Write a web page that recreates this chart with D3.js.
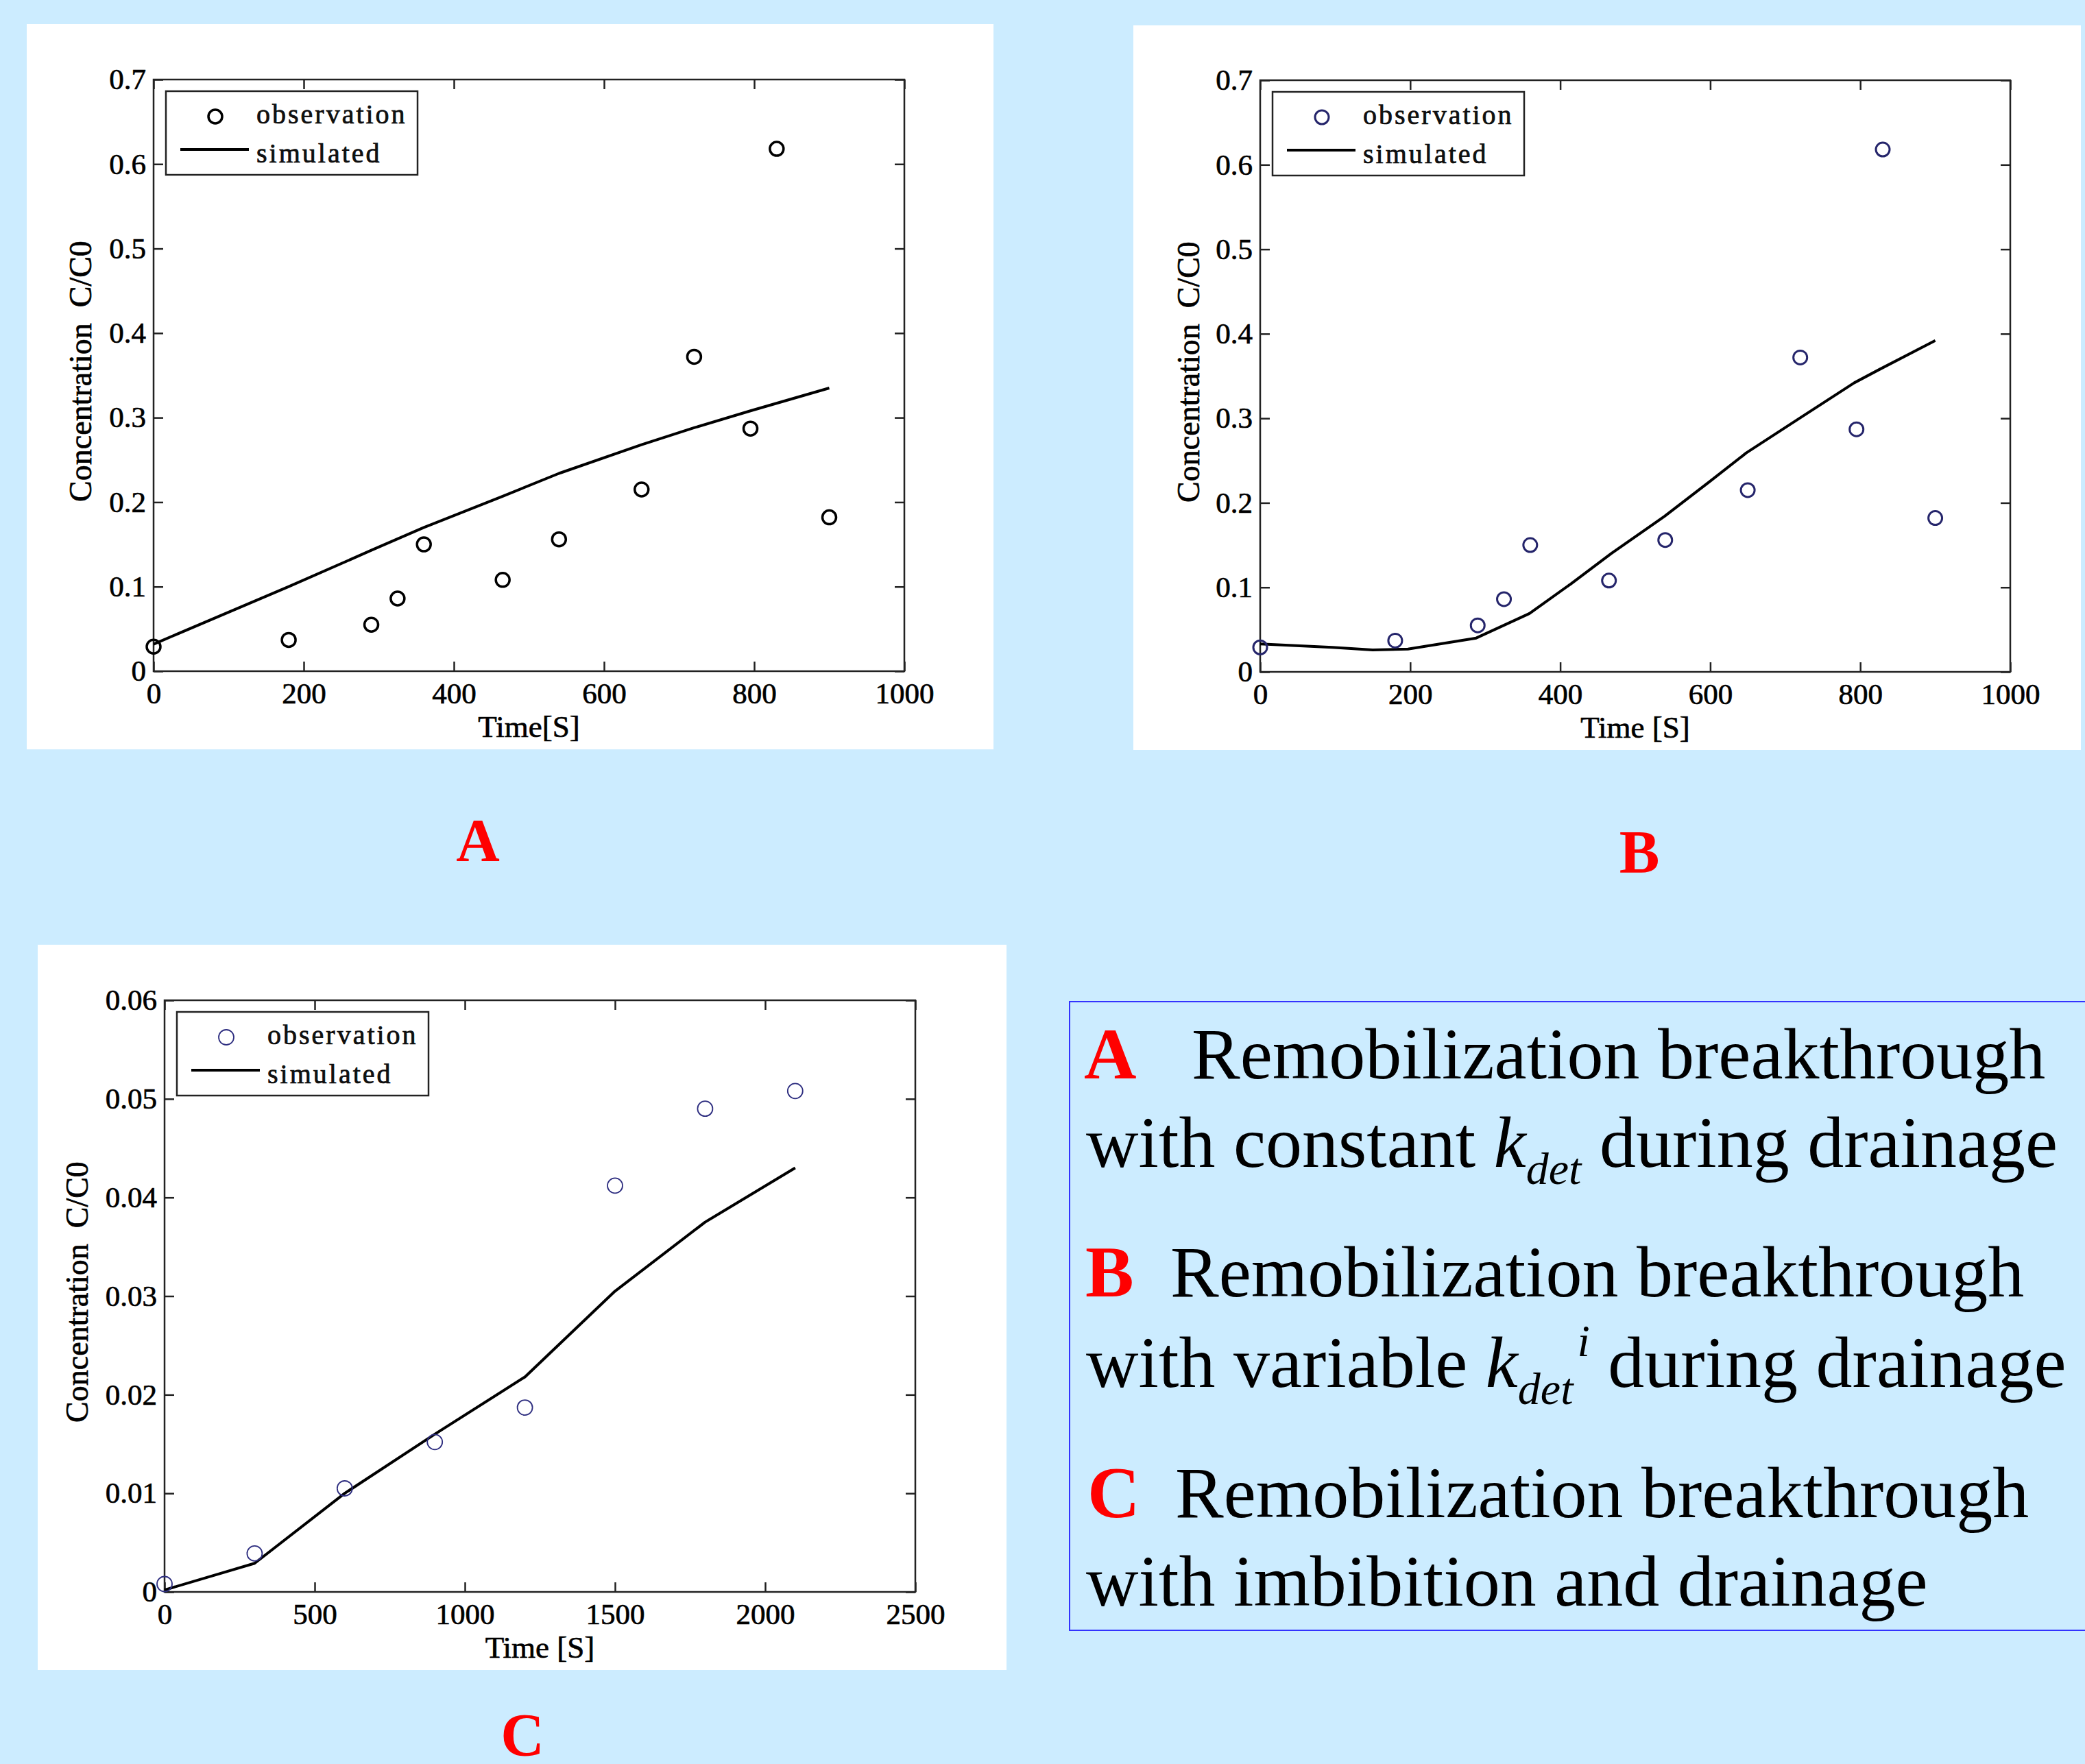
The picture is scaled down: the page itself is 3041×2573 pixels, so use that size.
<!DOCTYPE html>
<html>
<head>
<meta charset="utf-8">
<script src="https://cdn.jsdelivr.net/npm/d3@7"></script>
<style>
  body { margin: 0; background: #ccecff; }
  svg { display: block; }
  text { font-family: "Liberation Serif", "Times New Roman", serif; }
  .chart text { stroke: #000; stroke-width: 0.7px; }
</style>
</head>
<body>
<svg id="fig" width="3041" height="2573"></svg>
<script>
// observed breakthrough, same data in A and B
var obsTimeAB = [0, 180, 290, 325, 360, 465, 540, 650, 720, 795, 830, 900];
var obsConcAB = [0.029, 0.037, 0.055, 0.086, 0.150, 0.108, 0.156, 0.215, 0.372, 0.287, 0.618, 0.182];

// A: constant kdet
var simTimeA = [0, 180, 290, 360, 465, 540, 650, 720, 795, 900];
var simConcA = [0.032, 0.100, 0.143, 0.170, 0.207, 0.234, 0.268, 0.288, 0.308, 0.335];

// B: variable kdet
var simTimeB = [0, 96, 150, 197, 288, 359, 414, 468, 539, 599, 648, 719, 792, 826, 900];
var simConcB = [0.033, 0.029, 0.026, 0.027, 0.040, 0.069, 0.104, 0.140, 0.184, 0.225, 0.259, 0.300, 0.342, 0.358, 0.392];

// C: imbibition + drainage
var obsTimeC = [0, 300, 600, 900, 1200, 1500, 1800, 2100];
var obsConcC = [0.0008, 0.0039, 0.0105, 0.0152, 0.0187, 0.0412, 0.0490, 0.0508];
var simTimeC = [0, 300, 600, 900, 1200, 1500, 1800, 2100];
var simConcC = [0.0002, 0.0029, 0.0100, 0.0160, 0.0218, 0.0305, 0.0375, 0.0430];

var tickXAB = [0, 200, 400, 600, 800, 1000];
var tickYAB = [0, 0.1, 0.2, 0.3, 0.4, 0.5, 0.6, 0.7];
var tickXC = [0, 500, 1000, 1500, 2000, 2500];
var tickYC = [0, 0.01, 0.02, 0.03, 0.04, 0.05, 0.06];
var legendLabels = ["observation", "simulated"];
var yTitle = "Concentration  C/C0";

var svg = d3.select("#fig");

var fmtY1 = function(d) { return d === 0 ? "0" : d3.format(".1f")(d); };
var fmtY2 = function(d) { return d === 0 ? "0" : d3.format(".2f")(d); };

function styleAxis(sel) {
  sel.attr("font-size", null).attr("font-family", null);
  sel.select(".domain").remove();
  sel.selectAll(".tick line").attr("stroke", "#222").attr("stroke-width", 2.5);
  sel.selectAll(".tick text").attr("fill", "#000").style("font-size", "43px");
}

function drawPanel(p) {
  var g = svg.append("g").attr("class", "chart");
  g.append("rect")
    .attr("x", p.box[0]).attr("y", p.box[1])
    .attr("width", p.box[2] - p.box[0]).attr("height", p.box[3] - p.box[1])
    .attr("fill", "#fff");

  var L = p.plot[0], T = p.plot[1], R = p.plot[2], B = p.plot[3];
  var x = d3.scaleLinear().domain(p.xDomain).range([L, R]);
  var y = d3.scaleLinear().domain(p.yDomain).range([B, T]);

  g.append("g").attr("transform", "translate(0," + B + ")")
    .call(d3.axisBottom(x).tickValues(p.xTicks).tickSizeInner(-14).tickSizeOuter(0)
      .tickPadding(16).tickFormat(d3.format("d")))
    .call(styleAxis);
  g.append("g").attr("transform", "translate(0," + T + ")")
    .call(d3.axisTop(x).tickValues(p.xTicks).tickSizeInner(-14).tickSizeOuter(0).tickFormat(""))
    .call(styleAxis);
  g.append("g").attr("transform", "translate(" + L + ",0)")
    .call(d3.axisLeft(y).tickValues(p.yTicks).tickSizeInner(-14).tickSizeOuter(0)
      .tickPadding(11).tickFormat(p.yFmt))
    .call(styleAxis);
  g.append("g").attr("transform", "translate(" + R + ",0)")
    .call(d3.axisRight(y).tickValues(p.yTicks).tickSizeInner(-14).tickSizeOuter(0).tickFormat(""))
    .call(styleAxis);

  g.append("rect")
    .attr("x", L).attr("y", T).attr("width", R - L).attr("height", B - T)
    .attr("fill", "none").attr("stroke", "#222").attr("stroke-width", 2.5);

  var line = d3.line()
    .x(function(d, i) { return x(p.simT[i]); })
    .y(function(d) { return y(d); });
  g.append("path").datum(p.simC)
    .attr("d", line)
    .attr("fill", "none").attr("stroke", "#000").attr("stroke-width", 4)
    .attr("stroke-linejoin", "round");

  g.selectAll("circle.obs").data(p.obsC).enter().append("circle")
    .attr("class", "obs")
    .attr("cx", function(d, i) { return x(p.obsT[i]); })
    .attr("cy", function(d) { return y(d); })
    .attr("r", p.mr)
    .attr("fill", "none").attr("stroke", p.mc).attr("stroke-width", p.mw);

  // legend
  var lx = L + 18, ly = T + 17;
  var lg = g.append("g").attr("transform", "translate(" + lx + "," + ly + ")");
  lg.append("rect").attr("width", 367).attr("height", 122)
    .attr("fill", "#fff").attr("stroke", "#222").attr("stroke-width", 2.5);
  lg.append("circle").attr("cx", 72).attr("cy", 37).attr("r", p.mr)
    .attr("fill", "none").attr("stroke", p.mc).attr("stroke-width", p.mw);
  lg.append("line").attr("x1", 21).attr("x2", 121).attr("y1", 85).attr("y2", 85)
    .attr("stroke", "#000").attr("stroke-width", 4);
  lg.selectAll("text").data(legendLabels).enter().append("text")
    .attr("x", 132).attr("y", function(d, i) { return i ? 104 : 47; })
    .attr("font-size", 40).attr("letter-spacing", 3).attr("fill", "#111")
    .text(function(d) { return d; });

  // axis titles
  g.append("text")
    .attr("x", (L + R) / 2).attr("y", B + 96)
    .attr("text-anchor", "middle").attr("font-size", 45).attr("fill", "#000")
    .text(p.xTitle);
  g.append("text")
    .attr("transform", "translate(" + (L - p.yOff) + "," + ((T + B) / 2 - 6) + ") rotate(-90)")
    .attr("text-anchor", "middle").attr("font-size", 46).attr("fill", "#000")
    .style("white-space", "pre")
    .text(yTitle);

  svg.append("text")
    .attr("x", p.tag[0]).attr("y", p.tag[1])
    .attr("text-anchor", "middle").attr("font-size", 88).attr("font-weight", "bold")
    .attr("fill", "#ff0000")
    .text(p.tagText);
}

drawPanel({
  box: [39, 35, 1449, 1093], plot: [224, 116, 1319, 979],
  xDomain: [0, 1000], yDomain: [0, 0.7], xTicks: tickXAB, yTicks: tickYAB, yFmt: fmtY1,
  obsT: obsTimeAB, obsC: obsConcAB, simT: simTimeA, simC: simConcA,
  mr: 10, mc: "#000", mw: 3.5,
  xTitle: "Time[S]", yOff: 91, tag: [697, 1255], tagText: "A"
});
drawPanel({
  box: [1653, 37, 3035, 1094], plot: [1838, 117, 2932, 980],
  xDomain: [0, 1000], yDomain: [0, 0.7], xTicks: tickXAB, yTicks: tickYAB, yFmt: fmtY1,
  obsT: obsTimeAB, obsC: obsConcAB, simT: simTimeB, simC: simConcB,
  mr: 10, mc: "#25256b", mw: 3,
  xTitle: "Time [S]", yOff: 89, tag: [2391, 1272], tagText: "B"
});
drawPanel({
  box: [55, 1378, 1468, 2436], plot: [240, 1459, 1335, 2322],
  xDomain: [0, 2500], yDomain: [0, 0.06], xTicks: tickXC, yTicks: tickYC, yFmt: fmtY2,
  obsT: obsTimeC, obsC: obsConcC, simT: simTimeC, simC: simConcC,
  mr: 11, mc: "#2e2e80", mw: 1.8,
  xTitle: "Time [S]", yOff: 112, tag: [762, 2560], tagText: "C"
});

// description box
svg.append("rect")
  .attr("x", 1560).attr("y", 1461).attr("width", 1500).attr("height", 917)
  .attr("fill", "none").attr("stroke", "#3333ff").attr("stroke-width", 2);

var desc = svg.append("g").attr("font-size", 106).attr("fill", "#000");

function heading(letter, lx, tx, y) {
  var t = desc.append("text").attr("y", y);
  t.append("tspan").attr("x", lx).attr("fill", "#ff0000").attr("font-weight", "bold").text(letter);
  t.append("tspan").attr("x", tx).text("Remobilization breakthrough");
}

heading("A", 1581, 1738, 1573);
var l2 = desc.append("text").attr("x", 1584).attr("y", 1702).style("white-space", "pre");
l2.append("tspan").text("with constant ");
l2.append("tspan").attr("font-style", "italic").text("k");
l2.append("tspan").attr("font-style", "italic").attr("font-size", 66).attr("dy", 25).text("det");
l2.append("tspan").attr("dy", -25).text(" during drainage");

heading("B", 1583, 1707, 1891);
var l4 = desc.append("text").attr("x", 1584).attr("y", 2023).style("white-space", "pre");
l4.append("tspan").text("with variable ");
l4.append("tspan").attr("font-style", "italic").text("k");
l4.append("tspan").attr("font-style", "italic").attr("font-size", 66).attr("dy", 25).text("det");
l4.append("tspan").attr("font-style", "italic").attr("font-size", 66).attr("dy", -70).attr("dx", 6).text("i");
l4.append("tspan").attr("dy", 45).text(" during drainage");

heading("C", 1586, 1714, 2213);
desc.append("text").attr("x", 1584).attr("y", 2342).text("with imbibition and drainage");
</script>
</body>
</html>
